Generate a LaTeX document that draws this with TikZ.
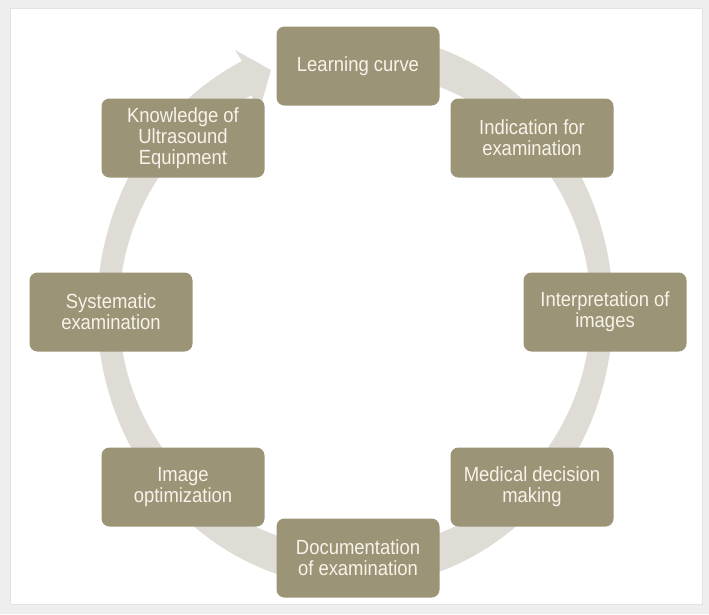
\documentclass[tikz,border=0pt]{standalone}
\usepackage{fontspec}
\setmainfont[FakeStretch=0.9]{Liberation Sans}
\definecolor{boxc}{HTML}{9C9476}
\definecolor{ringc}{HTML}{DFDCD5}
\definecolor{txtc}{HTML}{F7F3EA}
\definecolor{framec}{HTML}{EEEEEE}
\definecolor{framed}{HTML}{E2E2E2}
\tikzset{
  stepbox/.style={fill=boxc, rounded corners=8pt, minimum width=163pt,
    minimum height=79pt, text=txtc, align=center, inner sep=2pt,
    font=\fontsize{20.5}{21}\selectfont},
}
\begin{document}
\begin{tikzpicture}[x=1pt,y=-1pt]
\useasboundingbox (0,0) rectangle (709,614);
\fill[framec] (0,0) rectangle (709,614);
\filldraw[fill=white, draw=framed] (10,8) rectangle (702,604);
% circular arrow
\coordinate (barbO) at (235,50);
\coordinate (tip) at (271,70);
\coordinate (barbI) at (259,112);
\fill[ringc] plot[domain=80:-244,samples=160] ({355+258*cos(\x)},{310-277*sin(\x)})
  -- (barbO) -- (tip) -- (barbI)
  -- plot[domain=-244:80,samples=160] ({355+236*cos(\x)},{310-239*sin(\x)}) -- cycle;
% steps
\node[stepbox] (lc)  at (358,66)  {Learning curve};
\node[stepbox] (ind) at (532,138) {Indication for\\examination};
\node[stepbox] (int) at (605,312) {Interpretation of\\images};
\node[stepbox] (med) at (532,487) {Medical decision\\making};
\node[stepbox] (doc) at (358,558) {Documentation\\of examination};
\node[stepbox] (img) at (183,487) {Image\\optimization};
\node[stepbox] (sys) at (111,312) {Systematic\\examination};
\node[stepbox] (kno) at (183,138) {Knowledge of\\Ultrasound\\Equipment};
\end{tikzpicture}
\end{document}
